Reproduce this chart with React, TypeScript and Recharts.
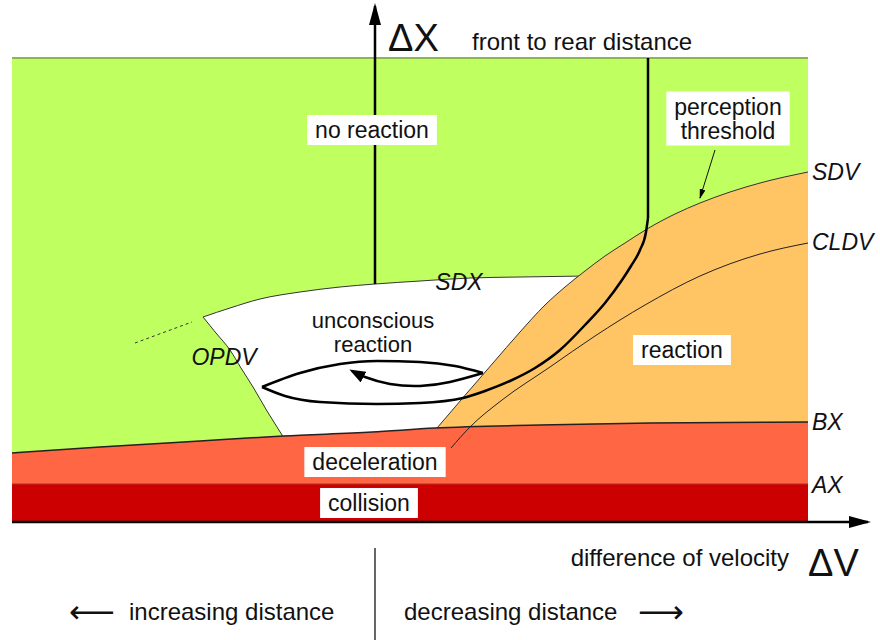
import React from 'react';
import { ComposedChart, XAxis, YAxis, Area, Line, Scatter } from 'recharts';

type Pt = { dv: number; dx: number };
type Lbl = { dv: number; dx: number; text: string };
const P = (dv: number, dx: number): Pt => ({ dv, dx });
const L = (dv: number, dx: number, text: string): Lbl => ({ dv, dx, text });

// ---- Region boundaries (Δv, Δx in arbitrary units) ----
const noReactionTop: Pt[] = [P(-36.3, 46.4), P(43.3, 46.4)];
const sdx: Pt[] = [P(-17.2, 20.5), P(-14.5, 21.4), P(-11.5, 22.3), P(-7.5, 23.0), P(-3.5, 23.5), P(0, 23.8), P(4.5, 24.1), P(9.5, 24.4), P(14.5, 24.5), P(21.0, 24.6)];
const opdv: Pt[] = [P(-17.2, 20.5), P(-15.9, 18.9), P(-14.5, 17.2), P(-13.4, 15.4), P(-12.2, 13.5), P(-10.8, 11.1), P(-9.3, 8.7), P(-9.0, 8.2)];
const opdvExtension: Pt[] = [P(-24.0, 17.9), P(-18.3, 20.0)];
const sdv: Pt[] = [P(6.2, 9.4), P(9.2, 12.9), P(11.8, 15.9), P(14.5, 19.0), P(17.0, 21.7), P(19.0, 23.5), P(21.0, 25.1), P(23.0, 26.6), P(25.0, 27.9), P(27.2, 29.3), P(30.0, 30.8), P(32.5, 31.9), P(35.5, 33.0), P(38.5, 33.9), P(43.3, 35.0)];
const cldv: Pt[] = [P(7.6, 7.4), P(9.5, 9.5), P(12.7, 12.2), P(17.5, 15.5), P(22.0, 18.6), P(27.0, 21.7), P(32.5, 24.6), P(38.5, 26.8), P(43.3, 27.9)];
const bx: Pt[] = [P(-36.3, 6.9), P(-27.5, 7.5), P(-17.5, 8.1), P(-9.2, 8.6), P(-0.3, 9.0), P(6.0, 9.4), P(16.5, 9.7), P(27.5, 9.9), P(43.3, 10.0)];
const ax: Pt[] = [P(-36.3, 3.8), P(43.3, 3.8)];

// ---- Example trajectory ----
const trajectoryApproach: Pt[] = [P(27.3, 46.4), P(27.3, 30.4)];
const trajectoryLower: Pt[] = [P(-11.3, 13.5), P(-9.0, 12.6), P(-5.5, 12.0), P(0.2, 11.8), P(4.5, 11.9), P(8.8, 12.4), P(11.0, 13.1), P(13.5, 14.1), P(16.0, 15.4), P(18.5, 17.2), P(21.0, 19.7), P(23.0, 21.9), P(24.7, 24.2), P(25.6, 25.6), P(26.5, 27.2), P(27.1, 29.0), P(27.3, 30.4)];
const trajectoryUpper: Pt[] = [P(-11.3, 13.5), P(-7.5, 14.9), P(-3.5, 15.8), P(0.2, 16.1), P(4.5, 16.0), P(8.0, 15.6), P(10.8, 14.9)];
const loopArrow: Pt[] = [P(10.8, 14.9), P(7.5, 14.0), P(4.5, 13.6), P(1.5, 13.8), P(-1.0, 14.5), P(-2.3, 15.1)];
const thresholdPointer: Pt[] = [P(34.0, 37.2), P(32.5, 32.4)];

// ---- Axes ----
const dxAxis: Pt[] = [P(0, 23.8), P(0, 51.6)];
const dvAxis: Pt[] = [P(-36.3, 0), P(49.3, 0)];
const divider: Pt[] = [P(0, -2.6), P(0, -11.8)];

// ---- Texts ----
const boxedLabels: Lbl[] = [
  L(-0.3, 39.2, 'no reaction'),
  L(35.3, 40.35, 'perception\nthreshold'),
  L(30.7, 17.2, 'reaction'),
  L(0.0, 6.0, 'deceleration'),
  L(-0.6, 1.9, 'collision'),
];
const plainLabels: Lbl[] = [L(-0.2, 18.95, 'unconscious\nreaction')];
const curveNamesCentered: Lbl[] = [L(8.4, 24.0, 'SDX'), L(-15.1, 16.5, 'OPDV')];
const curveNamesRight: Lbl[] = [L(43.7, 35.0, 'SDV'), L(43.7, 28.0, 'CLDV'), L(43.7, 10.0, 'BX'), L(43.7, 3.7, 'AX')];
const axisSymbols: Lbl[] = [L(1.3, 48.5, 'ΔX'), L(43.3, -4.0, 'ΔV')];
const axisTitleStart: Lbl[] = [L(9.7, 48.1, 'front to rear distance')];
const axisTitleEnd: Lbl[] = [L(41.4, -3.5, 'difference of velocity')];
const bottomNotes: Lbl[] = [L(-24.6, -8.9, 'increasing distance'), L(2.9, -8.9, 'decreasing distance')];
const bottomArrows: Lbl[] = [L(-30.6, -8.9, '⟵'), L(26.3, -8.9, '⟶')];

const FONT = '"Liberation Sans", Arial, Helvetica, sans-serif';

let ctx: CanvasRenderingContext2D | null = null;
function measure(text: string, font: string): number {
  if (!ctx) ctx = document.createElement('canvas').getContext('2d');
  if (!ctx) return text.length * 11;
  ctx.font = font;
  return ctx.measureText(text).width;
}

type TextStyle = {
  fontSize: number;
  anchor: 'start' | 'middle' | 'end';
  italic?: boolean;
  box?: boolean;
  lineHeight?: number;
  family?: string;
};

function textShape(style: TextStyle) {
  return (props: any) => {
    const { cx, cy, payload } = props;
    if (cx == null || cy == null || !payload) return <g />;
    const lines: string[] = String(payload.text).split('\n');
    const fs = style.fontSize;
    const lh = style.lineHeight ?? fs;
    const fam = style.family ?? FONT;
    const fontStr = `${style.italic ? 'italic ' : ''}${fs}px ${fam}`;
    const w = Math.max(...lines.map((l) => measure(l, fontStr)));
    const h = lines.length * lh + 6;
    const padX = 8;
    return (
      <g>
        {style.box && (
          <rect x={cx - w / 2 - padX} y={cy - h / 2} width={w + 2 * padX} height={h} fill="#ffffff" />
        )}
        <text
          textAnchor={style.anchor}
          fontFamily={fam}
          fontSize={fs}
          fontStyle={style.italic ? 'italic' : 'normal'}
          fill="#111"
        >
          {lines.map((l, i) => (
            <tspan key={i} x={cx} y={cy + (i - (lines.length - 1) / 2) * lh + fs * 0.36}>
              {l}
            </tspan>
          ))}
        </text>
      </g>
    );
  };
}

const GREEN = '#C0FF60';
const ORANGE = '#FFC464';
const RED = '#FF6644';
const DARKRED = '#CC0000';

export default function App() {
  const common = { isAnimationActive: false, activeDot: false as const, dot: false as const };
  return (
    <div style={{ position: 'absolute', left: 0, top: 0, width: 880, height: 640, background: '#fff' }}>
      <svg width={0} height={0} style={{ position: 'absolute' }}>
        <defs>
          <marker id="axisHead" markerUnits="userSpaceOnUse" markerWidth={22} markerHeight={12} refX={19} refY={6} orient="auto">
            <path d="M0,0 L22,6 L0,12 Z" fill="#000" />
          </marker>
          <marker id="loopHead" markerUnits="userSpaceOnUse" markerWidth={16} markerHeight={12} refX={13} refY={6} orient="auto">
            <path d="M0,0 L16,6 L0,12 Z" fill="#000" />
          </marker>
          <marker id="smallHead" markerUnits="userSpaceOnUse" markerWidth={10} markerHeight={6} refX={9} refY={3} orient="auto">
            <path d="M0,0 L10,3 L0,6 Z" fill="#000" />
          </marker>
        </defs>
      </svg>
      <ComposedChart width={880} height={640} margin={{ top: 0, right: 0, bottom: 0, left: 0 }}>
        <XAxis type="number" dataKey="dv" domain={[-37.5, 50.5]} allowDataOverflow hide />
        <YAxis type="number" dataKey="dx" domain={[-11.8, 52.2]} allowDataOverflow hide />

        {/* regions */}
        <Area {...common} data={noReactionTop} dataKey="dx" type="linear" baseValue={0} fill={GREEN} fillOpacity={1} stroke="#8AB84A" strokeWidth={2} />
        <Area {...common} data={sdx} dataKey="dx" type="monotone" baseValue={0} fill="#ffffff" fillOpacity={1} stroke="#333" strokeWidth={1} />
        <Area {...common} data={opdv} dataKey="dx" type="monotone" baseValue={0} fill={GREEN} fillOpacity={1} stroke="#333" strokeWidth={1} />
        <Area {...common} data={sdv} dataKey="dx" type="monotone" baseValue={0} fill={ORANGE} fillOpacity={1} stroke="#333" strokeWidth={1} />
        <Area {...common} data={bx} dataKey="dx" type="monotone" baseValue={0} fill={RED} fillOpacity={1} stroke="#222" strokeWidth={1.5} />
        <Area {...common} data={ax} dataKey="dx" type="linear" baseValue={0} fill={DARKRED} fillOpacity={1} stroke="#A83020" strokeWidth={1} />

        {/* thin curves */}
        <Line {...common} data={cldv} dataKey="dx" type="monotone" stroke="#222" strokeWidth={1} />
        <Line {...common} data={opdvExtension} dataKey="dx" type="linear" stroke="#333" strokeWidth={1} strokeDasharray="3 3" />
        <Line {...common} data={thresholdPointer} dataKey="dx" type="linear" stroke="#111" strokeWidth={1} markerEnd="url(#smallHead)" />

        {/* trajectory */}
        <Line {...common} data={trajectoryApproach} dataKey="dx" type="linear" stroke="#000" strokeWidth={2.5} />
        <Line {...common} data={trajectoryLower} dataKey="dx" type="monotone" stroke="#000" strokeWidth={2.5} />
        <Line {...common} data={trajectoryUpper} dataKey="dx" type="monotone" stroke="#000" strokeWidth={2.5} />
        <Line {...common} data={loopArrow} dataKey="dx" type="natural" stroke="#000" strokeWidth={2.5} markerEnd="url(#loopHead)" />

        {/* axes */}
        <Line {...common} data={dxAxis} dataKey="dx" type="linear" stroke="#000" strokeWidth={2.5} markerEnd="url(#axisHead)" />
        <Line {...common} data={dvAxis} dataKey="dx" type="linear" stroke="#000" strokeWidth={2.5} markerEnd="url(#axisHead)" />
        <Line {...common} data={divider} dataKey="dx" type="linear" stroke="#000" strokeWidth={1.2} />

        {/* texts */}
        <Scatter data={boxedLabels} dataKey="dx" shape={textShape({ fontSize: 23, anchor: 'middle', box: true, lineHeight: 24 })} isAnimationActive={false} />
        <Scatter data={plainLabels} dataKey="dx" shape={textShape({ fontSize: 22, anchor: 'middle', lineHeight: 24 })} isAnimationActive={false} />
        <Scatter data={curveNamesCentered} dataKey="dx" shape={textShape({ fontSize: 23, anchor: 'middle', italic: true })} isAnimationActive={false} />
        <Scatter data={curveNamesRight} dataKey="dx" shape={textShape({ fontSize: 23, anchor: 'start', italic: true })} isAnimationActive={false} />
        <Scatter data={axisSymbols} dataKey="dx" shape={textShape({ fontSize: 38, anchor: 'start' })} isAnimationActive={false} />
        <Scatter data={axisTitleStart} dataKey="dx" shape={textShape({ fontSize: 24, anchor: 'start' })} isAnimationActive={false} />
        <Scatter data={axisTitleEnd} dataKey="dx" shape={textShape({ fontSize: 24, anchor: 'end' })} isAnimationActive={false} />
        <Scatter data={bottomNotes} dataKey="dx" shape={textShape({ fontSize: 24, anchor: 'start' })} isAnimationActive={false} />
        <Scatter data={bottomArrows} dataKey="dx" shape={textShape({ fontSize: 32, anchor: 'start', family: '"DejaVu Sans", sans-serif' })} isAnimationActive={false} />
      </ComposedChart>
    </div>
  );
}
